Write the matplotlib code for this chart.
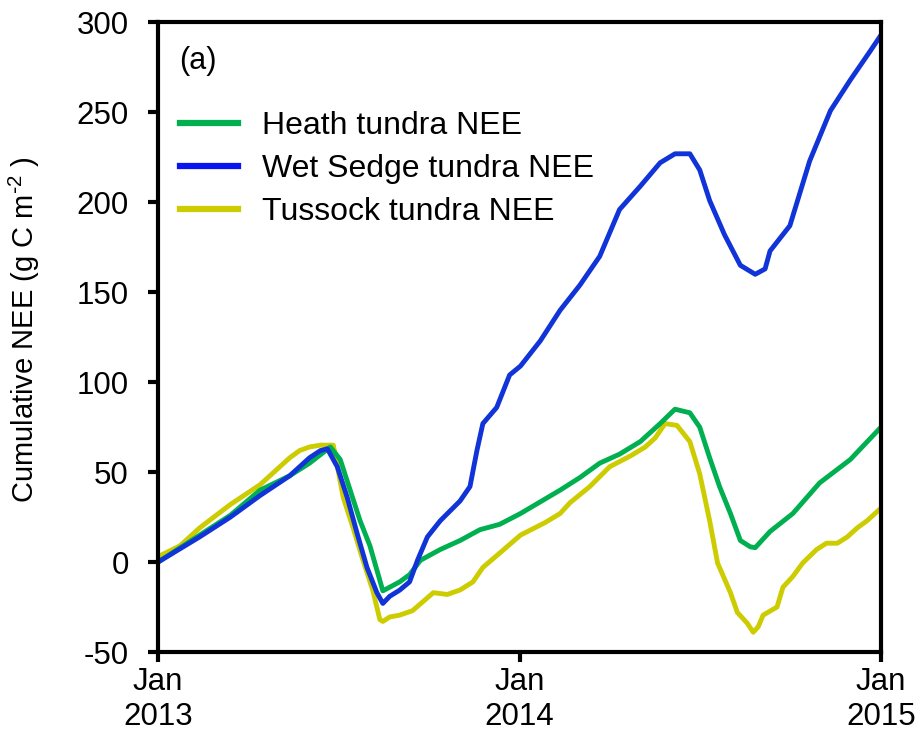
import numpy as np
import matplotlib.pyplot as plt

plt.rcParams['font.family'] = ['Liberation Sans', 'DejaVu Sans']
plt.rcParams['mathtext.default'] = 'regular'
plt.rcParams['axes.unicode_minus'] = False

# days since 1 Jan 2013, cumulative NEE (g C m-2)
heath_day = [0, 42, 73, 103, 133, 153, 174, 184, 194, 204, 214, 227, 244, 254, 265,
             285, 305, 325, 345, 366, 406, 426, 446, 466, 487, 507, 522, 537, 547,
             557, 567, 578, 588, 598, 603, 618, 641, 668, 699, 730]
heath_nee = [0, 15, 26, 40, 48, 55, 64, 57, 40, 23, 9, -16, -11, -7, 1,
             7, 12, 18, 21, 27, 40, 47, 55, 60, 67, 77, 85, 83, 75,
             58, 42, 27, 12, 8.5, 8, 17, 27, 44, 57, 75]

sedge_day = [0, 42, 73, 103, 133, 153, 164, 171, 181, 191, 201, 211, 221, 227, 234,
             244, 254, 262, 272, 285, 305, 315, 322, 328, 342, 355, 366, 386, 406,
             426, 446, 466, 487, 507, 522, 537, 547, 557, 572, 588, 603, 613, 618,
             638, 658, 679, 699, 719, 730]
sedge_nee = [0, 14, 25, 37, 48, 58, 62, 63, 53, 36, 16, -3, -17, -23, -19,
             -15.6, -11, 1, 14, 23, 34, 42, 62, 77, 86, 104, 109, 123, 140,
             154, 170, 196, 209, 222, 227, 227, 218, 201, 182, 165, 160, 163, 173,
             187, 223, 251, 268, 284, 293]

tussock_day = [0, 22, 42, 73, 103, 133, 143, 153, 164, 177, 187, 197, 207, 217, 224,
               227, 234, 244, 257, 278, 292, 305, 318, 328, 345, 366, 391, 406, 416,
               436, 456, 477, 492, 502, 512, 524, 537, 547, 557, 565, 578, 585, 595,
               601, 606, 611, 625, 631, 641, 651, 665, 675, 686, 696, 706, 716, 730]
tussock_nee = [3, 9, 19, 32, 43, 58, 62, 64, 65, 65, 36, 19, 1, -16, -32,
               -33, -30.5, -29.5, -27, -17, -18, -15.5, -11, -3, 5, 15, 22, 27, 33,
               42, 53, 59, 64, 69, 77, 76, 67, 49, 23, -0.5, -17, -28, -34,
               -39, -36, -29.5, -25, -14, -8, -0.5, 7, 10.5, 10.5, 14, 19, 23, 30]

xtick_days = [0, 365, 730]
xtick_labels = ['Jan\n2013', 'Jan\n2014', 'Jan\n2015']

fig = plt.figure(figsize=(9.22, 7.37), dpi=100)
ax = fig.add_axes([0.1714, 0.1153, 0.7841, 0.8542])

c_heath, c_sedge, c_tussock = '#00b050', '#1034d8', '#cccc00'
lt, = ax.plot(tussock_day, tussock_nee, color=c_tussock, lw=3.5)
lh, = ax.plot(heath_day, heath_nee, color=c_heath, lw=3.5)
ls, = ax.plot(sedge_day, sedge_nee, color=c_sedge, lw=3.5)

ax.set_xlim(0, 730)
ax.set_ylim(-50, 300)
ax.set_yticks(np.arange(-50, 301, 50))
ax.set_xticks(xtick_days)
ax.set_xticklabels(xtick_labels, fontsize=22.5)
ax.tick_params(axis='y', labelsize=22.5, pad=14)
ax.tick_params(direction='out', length=7, width=3)
ax.tick_params(axis='x', pad=4)
for sp in ax.spines.values():
    sp.set_linewidth(3)

ax.set_ylabel(r'Cumulative NEE (g C m$^{\text{-}2}$ )', fontsize=21)
ax.yaxis.set_label_coords(-0.16, 0.512)
ax.text(0.029, 0.963, '(a)', transform=ax.transAxes, fontsize=22, va='top')

leg = ax.legend([lh, ls, lt],
                ['Heath tundra NEE', 'Wet Sedge tundra NEE', 'Tussock tundra NEE'],
                loc='upper left', bbox_to_anchor=(-0.01, 0.905), frameon=False,
                fontsize=23, handlelength=1.82, handletextpad=0.75, labelspacing=0.41)
for h, c in zip(leg.get_lines(), ['#00b050', '#0a14f0', '#cccc00']):
    h.set_linewidth(4.5)
    h.set_color(c)

fig.savefig('out.png', dpi=100)
